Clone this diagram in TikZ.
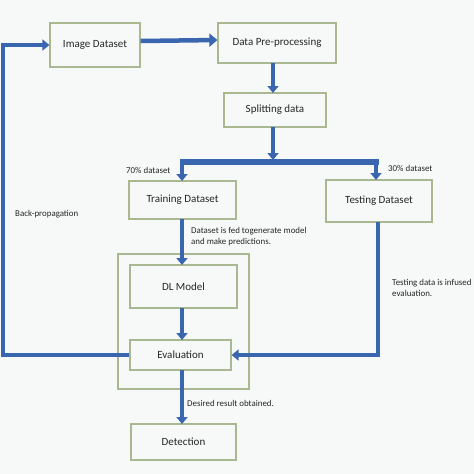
\documentclass[tikz,border=0pt]{standalone}
\usepackage{fontspec}
\setmainfont{Carlito}
\usetikzlibrary{arrows.meta,calc}
\definecolor{bg}{HTML}{F7F8F8}
\definecolor{boxline}{HTML}{A9B890}
\definecolor{flow}{HTML}{3A66B0}
\begin{document}
\begin{tikzpicture}[x=1pt,y=-1pt,
  box/.style={draw=boxline,line width=1.2pt,fill=bg,inner sep=0pt,font=\fontsize{11}{12}\selectfont,text=black!85},
  lbl/.style={font=\fontsize{8.9}{11.5}\selectfont,text=black!85,inner sep=0pt,anchor=west},
  flowline/.style={draw=flow,line width=4.5pt},
  arr/.style={flowline,-{Triangle[length=7pt,width=11pt]}},
  bigarr/.style={flowline,-{Triangle[length=8pt,width=13pt]}}]
\fill[bg] (0,0) rectangle (474,474);
\useasboundingbox (0,0) rectangle (474,474);
% container
\node[box,minimum width=131pt,minimum height=135pt] (cont) at (183.5,321.5) {};
% boxes
\node[box,minimum width=90pt,minimum height=44pt] (img) at (95,45) {Image Dataset};
\node[box,minimum width=118pt,minimum height=40pt] (pre) at (277,43) {Data Pre-processing};
\node[box,minimum width=102pt,minimum height=34pt] (split) at (275,110) {Splitting data};
\node[box,minimum width=107pt,minimum height=38pt] (train) at (182.5,200) {Training Dataset};
\node[box,minimum width=106pt,minimum height=42pt] (test) at (379,201) {Testing Dataset};
\node[box,minimum width=107pt,minimum height=43pt] (dl) at (183.5,286.5) {DL Model};
\node[box,minimum width=101pt,minimum height=30pt] (eval) at (180.5,355) {Evaluation};
\node[box,minimum width=105pt,minimum height=36pt] (det) at (183.5,442) {Detection};
% coordinates
\coordinate (bl) at (180,162);
\coordinate (br) at (379,162);
\coordinate (fbl) at (3,355);
\coordinate (ftl) at (3,45);
\coordinate (tr) at (378,355);
% connectors
\draw[bigarr] ($(img.east)+(0,-4)$) -- ($(pre.west)+(0,-3)$);
\draw[arr] (273,63) -- (273,93);
\draw[arr] (273,127) -- (273,160);
\draw[flowline,line width=5.5pt] (bl) -- (br);
\draw[arr] (182,162) -- (182,181);
\draw[arr] (376,162) -- (376,180);
\draw[arr] (182,219) -- (182,265);
\draw[arr] (182,308) -- (182,340);
\draw[arr] (182,370) -- (182,424);
\draw[arr] (eval.west) -- (fbl) -- (ftl) -- (img.west);
\draw[arr] (378,222) -- (tr) -- (eval.east);
% labels
\node[lbl] (l70) at (126,170) {70\% dataset};
\node[lbl] (l30) at (388,168) {30\% dataset};
\node[lbl] (lbp) at (15,214) {Back-propagation};
\node[lbl,anchor=north west,align=left] (lfed) at (191,227) {Dataset is fed togenerate model\\and make predictions.};
\node[lbl,anchor=north west,align=left] (ltest) at (392,279) {Testing data is infused\\evaluation.};
\node[lbl] (ldes) at (187,403) {Desired result obtained.};
\end{tikzpicture}
\end{document}
